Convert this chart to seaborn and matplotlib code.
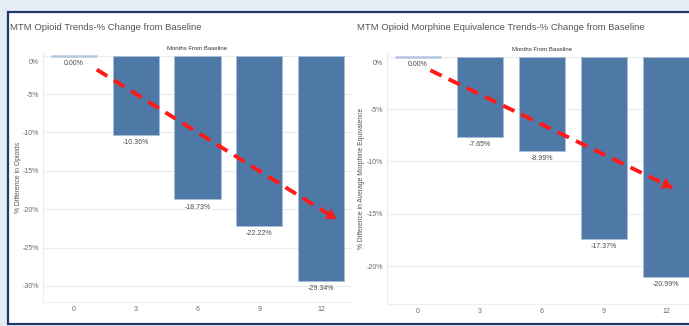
import matplotlib
matplotlib.use("Agg")
import matplotlib.pyplot as plt
import matplotlib.transforms as mtransforms
from matplotlib.patches import Rectangle
import seaborn as sns
import pandas as pd

# ---- data ----
months = ["0", "3", "6", "9", "12"]
opioid_change = [0.00, -10.36, -18.73, -22.22, -29.34]
mme_change = [0.00, -7.65, -8.99, -17.37, -20.99]
left_yticks = [0, -5, -10, -15, -20, -25, -30]
right_yticks = [0, -5, -10, -15, -20]
left_title = "MTM Opioid Trends-% Change from Baseline"
right_title = "MTM Opioid Morphine Equivalence Trends-% Change from Baseline"
left_ylabel = "% Difference in Opioids"
right_ylabel = "% Difference in Average Morphine Equivalence"
xlabel = "Months From Baseline"

sns.set_theme(style="white")
FONT = ["Liberation Sans", "DejaVu Sans"]
plt.rcParams["font.family"] = FONT

W, H = 689, 326
fig = plt.figure(figsize=(W / 100, H / 100), dpi=100)
fig.patch.set_facecolor("#e6ecf5")

# white panel with navy border
panel = Rectangle((8 / W, 2 / H), 1.05, (324 - 12) / H, transform=fig.transFigure,
                  facecolor="white", edgecolor="#1f3a68", linewidth=1.6, zorder=-5)
fig.patches.append(panel)

BAR = "#4e79a7"
TXT = "#6b6b6b"


def draw(ax, values, yticks, ylim, ylabel, ylab_x):
    ax.set_facecolor("none")
    df = pd.DataFrame({"month": months, "value": values})
    sns.barplot(data=df, x="month", y="value", order=months, color=BAR,
                saturation=1, width=0.75, ax=ax, zorder=2)
    for p, v in zip(ax.patches, values):
        p.set_edgecolor("#b3c7de" if v == 0 else "#a9bfd9")
        p.set_linewidth(1.8 if v == 0 else 0.6)
    ax.set_ylim(*ylim)
    ax.set_xlim(-0.5, 4.5)
    ax.set_yticks(yticks)
    ax.set_yticklabels([f"{t}%" for t in yticks])
    ax.grid(axis="y", color="#ececec", linewidth=0.8, zorder=0)
    ax.set_axisbelow(True)
    for s in ["top", "right"]:
        ax.spines[s].set_visible(False)
    for s in ["left", "bottom"]:
        ax.spines[s].set_color("#eeeeee")
        ax.spines[s].set_linewidth(0.8)
    ax.tick_params(axis="both", length=0, labelsize=5.0, labelcolor=TXT, pad=3)
    ax.set_xticks(range(len(months)))
    ax.set_xticklabels(months)
    ax.set_xticks([i + 0.5 for i in range(len(months) - 1)], minor=True)
    ax.tick_params(axis="x", which="minor", length=6, color="#e2e2e2", width=0.6,
                   direction="out")
    ax.set_xlabel(xlabel, fontsize=4.3, color="#333333", labelpad=1.5)
    ax.xaxis.set_label_position("top")
    ax.set_ylabel(ylabel, fontsize=4.9, color="#555555")
    ax.yaxis.set_label_coords(ylab_x, 0.5)
    # Tableau keeps the 0% label inside the pane
    for lab, t in zip(ax.get_yticklabels(), yticks):
        if t == 0:
            lab.set_transform(lab.get_transform() +
                              mtransforms.ScaledTranslation(0, -6 / 100, fig.dpi_scale_trans))
    for i, v in enumerate(values):
        ax.annotate(f"{v:.2f}%", xy=(i, v), xytext=(0, -3), textcoords="offset points",
                    ha="center", va="top", fontsize=5.0, color="#4a4a4a")


def trend_arrow(ax, start, end):
    ax.plot([start[0], end[0]], [start[1], end[1]], color="#ff1a1a", lw=2.8,
            linestyle=(0, (3.2, 2.0)), solid_capstyle="butt", zorder=5)
    dx = end[0] - start[0]
    dy = end[1] - start[1]
    f = 0.04
    ax.annotate("", xy=end, xytext=(end[0] - dx * f, end[1] - dy * f),
                arrowprops=dict(arrowstyle="-|>,head_length=0.55,head_width=0.32",
                                color="#ff1a1a", lw=0.5, shrinkA=0, shrinkB=0),
                zorder=6)


# left chart: 0 at y=55.5px, 7.67 px per %
ax1 = fig.add_axes([43 / W, 24 / H, 309 / W, 249.7 / H])
draw(ax1, opioid_change, left_yticks, (-32.1, 0.45), left_ylabel, -0.068)
trend_arrow(ax1, (0.37, -1.8), (4.25, -21.3))

# right chart: 0 at y=56.5px, 10.48 px per %
ax2 = fig.add_axes([387 / W, 22 / H, 310 / W, 251 / H])
draw(ax2, mme_change, right_yticks, (-23.6, 0.35), right_ylabel, -0.07)
trend_arrow(ax2, (0.2, -1.3), (4.1, -12.5))

fig.text(10 / W, 1 - 28 / H, left_title, fontsize=6.8, color="#555555", va="center", ha="left")
fig.text(357 / W, 1 - 28 / H, right_title, fontsize=6.8, color="#555555", va="center", ha="left")

fig.savefig("out.png", dpi=100, facecolor=fig.get_facecolor())
